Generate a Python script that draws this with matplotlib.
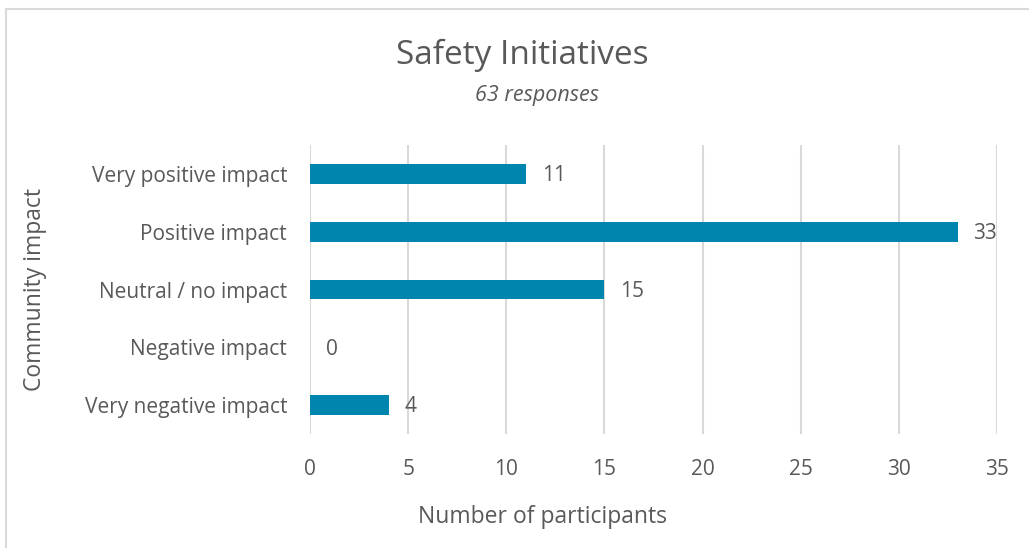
import matplotlib.pyplot as plt
from matplotlib.patches import Rectangle

categories = ["Very negative impact", "Negative impact", "Neutral / no impact",
              "Positive impact", "Very positive impact"]
counts = [4, 0, 15, 33, 11]
xticks = [0, 5, 10, 15, 20, 25, 30, 35]

BAR = "#0086AE"
TXT = "#595959"
plt.rcParams["font.family"] = ["Open Sans", "DejaVu Sans"]

fig = plt.figure(figsize=(10.29, 5.48), dpi=100)
ax = fig.add_axes([0.3013, 0.208, 0.6676, 0.5274])

# outer chart frame
fig.patches.append(Rectangle((6 / 1029, -0.1), 1.2, 1 - 9 / 548 + 0.1,
                             transform=fig.transFigure, fill=False,
                             edgecolor="#D9D9D9", lw=1.5))

y = range(len(categories))
ax.barh(y, counts, height=0.345, color=BAR, zorder=3)
for yi, v in zip(y, counts):
    ax.text(v + 0.8, yi - 0.03, str(v), va="center", ha="left", fontsize=15, color=TXT)

ax.set_xlim(0, 35)
ax.set_ylim(-0.5, len(categories) - 0.5)
ax.set_yticks(list(y))
ax.set_yticklabels(categories, fontsize=15, color=TXT)
ax.set_xticks(xticks)
ax.set_xticklabels([str(t) for t in xticks], fontsize=15, color=TXT)
ax.tick_params(length=0, pad=16.5, axis="y")
ax.tick_params(length=0, pad=18, axis="x")
ax.grid(axis="x", color="#D9D9D9", lw=1.5, zorder=0)
for s in ax.spines.values():
    s.set_visible(False)

ax.set_xlabel("Number of participants", fontsize=16.5, color=TXT)
ax.set_ylabel("Community impact", fontsize=16.5, color=TXT)
ax.xaxis.set_label_coords(0.339, -0.247)
ax.yaxis.set_label_coords(-0.383, 0.5)

fig.text(522 / 1029, 1 - 55 / 548, "Safety Initiatives", ha="center", va="center",
         fontsize=24, color=TXT)
fig.text(537 / 1029, 1 - 95 / 548, "63 responses", ha="center", va="center",
         fontsize=15.5, color=TXT, style="italic")

fig.savefig("out.png", dpi=100)
